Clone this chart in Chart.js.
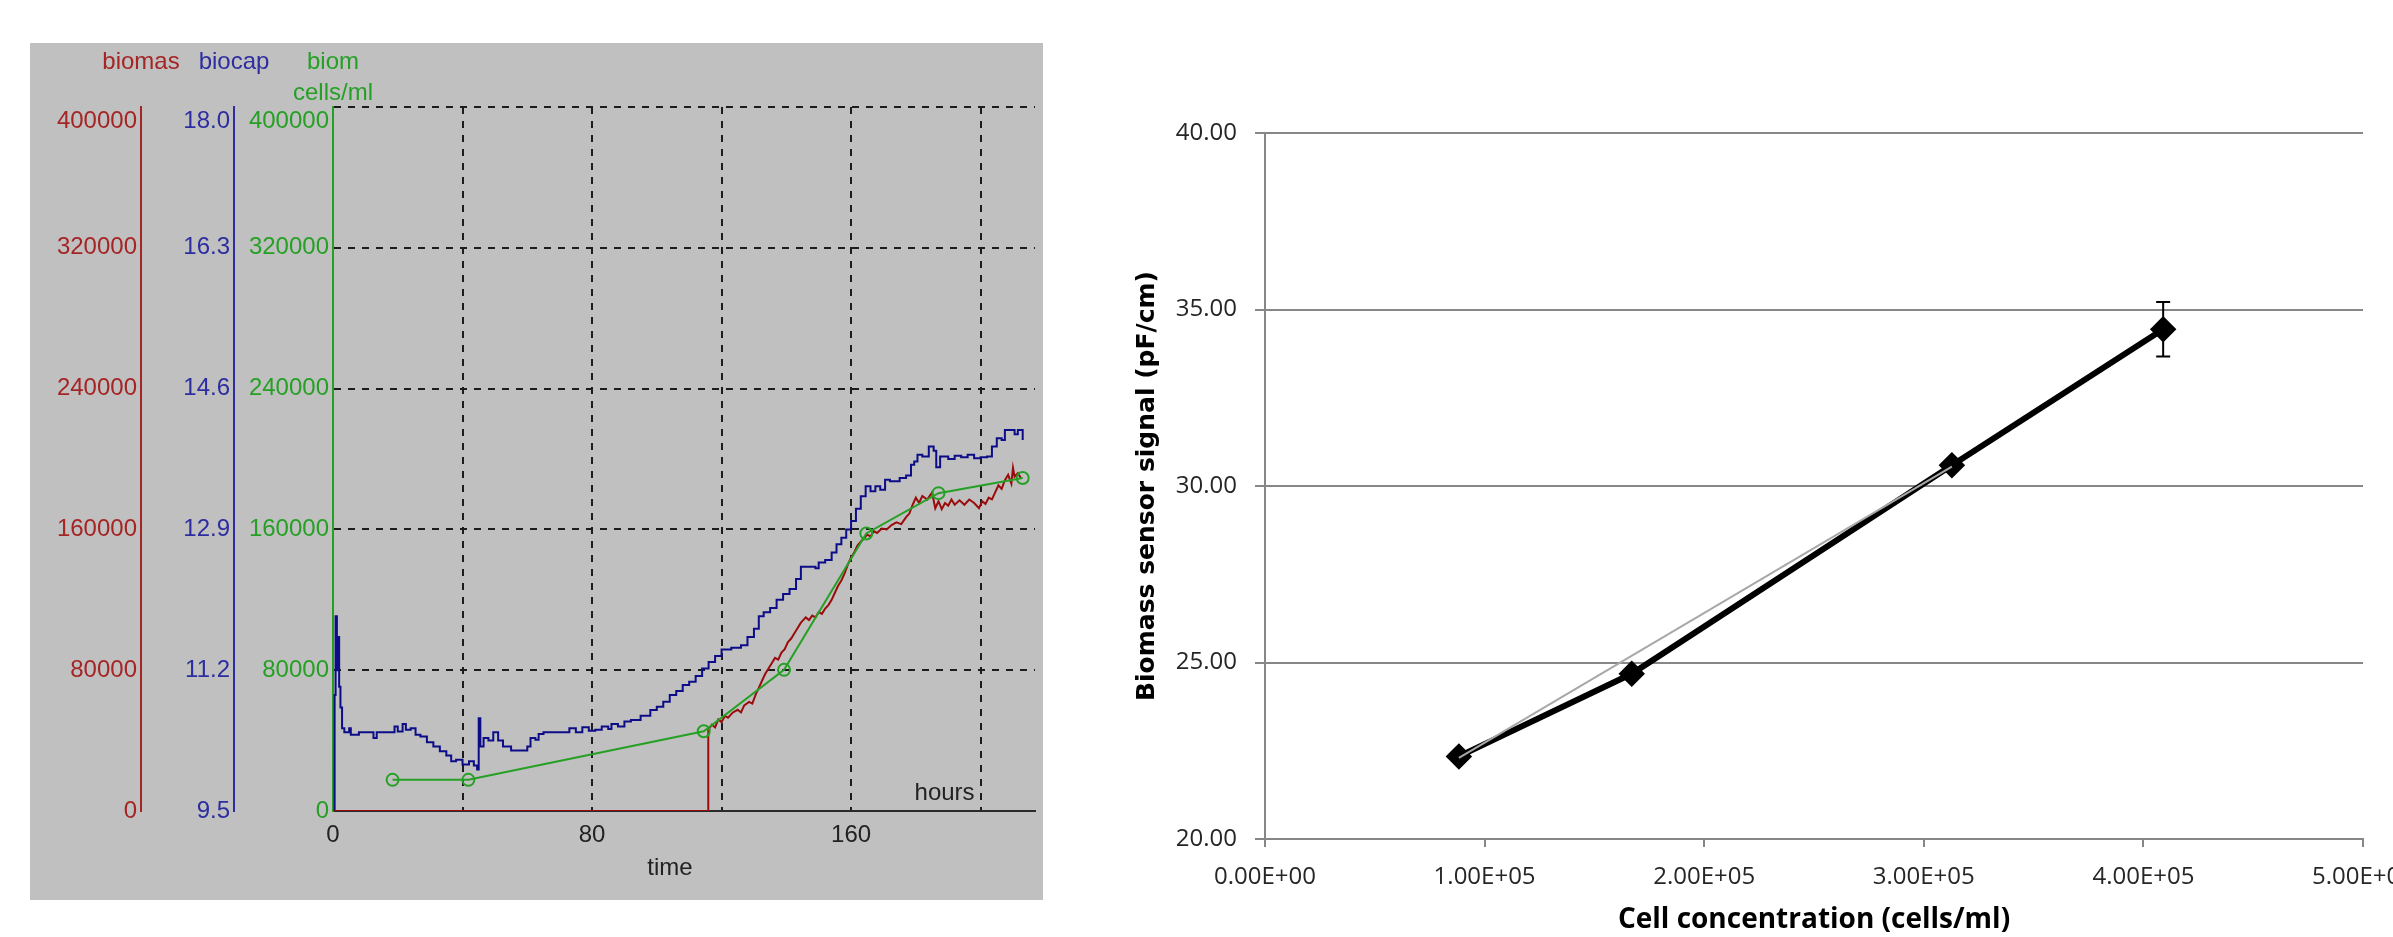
<!DOCTYPE html>
<html>
<head>
<meta charset="utf-8">
<script src="https://cdn.jsdelivr.net/npm/chart.js@4"></script>
<style>
  html, body { margin: 0; padding: 0; background: #fff; width: 2393px; height: 937px; overflow: hidden; }
  #wrapL { position: absolute; left: 30px; top: 43px; width: 1013px; height: 857px; background: #c0c0c0; }
  #wrapR { position: absolute; left: 1129px; top: 0; width: 1264px; height: 937px; }
  canvas { display: block; }
</style>
</head>
<body>
<div id="wrapL"><canvas id="left" width="1013" height="857"></canvas></div>
<div id="wrapR"><canvas id="right" width="1264" height="937"></canvas></div>
<script>
// ---- left panel: fermentation run (hours) ----
const timeTicks = [0, 40, 80, 120, 160, 200];
const cellTicks = [0, 80000, 160000, 240000, 320000, 400000];
const biocapTicks = [9.5, 11.2, 12.9, 14.6, 16.3, 18.0];

// offline cell counts (green, cells/ml)
const biomHours = [18.4, 41.8, 114.5, 139.3, 164.7, 187, 213];
const biomCells = [17700, 17700, 45300, 80200, 157700, 180600, 189200];

// on-line biomass estimate (red)
const biomasHours = [0, 115.9, 115.9, 117, 118, 119, 120, 121, 122, 123.5, 125, 126, 127, 128.5, 129.5, 130.5,
  131.5, 132.5, 133.5, 134.5, 135.5, 136.5, 137.5, 138.5, 139.5, 140.5, 141.5, 142.5, 143.5, 144.5,
  145, 146, 147, 148, 149, 150, 151, 152, 153, 154, 155, 156, 157, 158, 159, 160, 161, 162, 163, 164,
  165, 166, 167, 168, 169.5, 171, 172.5, 174, 175.5, 177, 178, 179, 180, 181, 182, 183.5, 185, 186, 187,
  188, 189, 190, 191, 192, 193.5, 195, 196.5, 198, 199.5, 200.5, 201.5, 202.5, 203.5, 204.5, 205.5,
  206.5, 207.5, 208.5, 209.5, 210, 210.5, 211.5, 212.5];
const biomasCells = [0, 0, 46000, 49000, 47500, 52000, 50500, 54000, 53000, 56000, 57500, 56000, 60000, 62000, 61000, 66000,
  70000, 74000, 78000, 81000, 84000, 87000, 86000, 90000, 92000, 96000, 98000, 101000, 104000, 107000,
  108000, 110000, 108500, 111000, 110000, 113000, 112000, 115000, 117000, 120000, 124000, 128000, 131000, 135000, 140000, 144000, 147000, 151000, 153000, 155000,
  157000, 156000, 159000, 158000, 160500, 160000, 162500, 164000, 163000, 167000, 169000, 174000, 178000, 175000, 179000, 177000, 181000, 172000, 176000,
  171500, 175000, 173500, 177000, 174000, 176500, 174000, 177000, 175000, 172000, 176000, 174500, 178000, 177000, 181000, 185000,
  183000, 188000, 191000, 186000, 195000, 190000, 192000, 189000];

// capacitance probe signal (blue)
const biocapHours = [0, 0.5, 0.8, 1.2, 1.5, 1.9, 2.3, 2.8, 3.5, 5, 5.5, 8, 12, 12.5, 13.5, 18, 19, 20, 21.5, 22.5,
  24, 25.5, 27, 29, 31, 33, 35, 36.5, 38, 40, 42, 43.5, 44.5, 45, 45.5, 46.5, 48, 49.5, 51, 52.5, 55, 58,
  60, 61, 62.5, 63.5, 65, 68, 72, 73, 75, 77, 79, 81, 83, 85, 86, 88, 90, 92, 95, 98, 100, 102, 104, 106,
  108, 110, 112, 114, 116, 118, 120, 123, 126, 128, 130, 131.5, 133, 135, 137, 139, 141, 143, 144.5, 147,
  149, 150, 152, 154, 155.5, 157, 158.5, 160, 161.5, 163, 164.5, 166, 167.5, 169, 170.5, 172, 175, 177,
  178.5, 179.5, 180.5, 182, 184, 185.5, 186.3, 187.5, 190, 192, 194, 196, 198, 200, 202, 203.5, 205, 206.5,
  207.5, 209, 210.5, 211.5, 213];
const biocapValues = [9.5, 10.9, 11.85, 11.2, 11.6, 11.0, 10.75, 10.5, 10.45, 10.5, 10.42, 10.45, 10.45, 10.38, 10.45, 10.45, 10.52, 10.46, 10.55, 10.48,
  10.5, 10.42, 10.4, 10.33, 10.28, 10.22, 10.17, 10.1, 10.12, 10.06, 10.1, 10.05, 10.0, 10.62, 10.28, 10.38, 10.35, 10.45, 10.35, 10.28, 10.23, 10.23,
  10.28, 10.38, 10.36, 10.43, 10.45, 10.45, 10.45, 10.5, 10.45, 10.51, 10.47, 10.48, 10.52, 10.49, 10.55, 10.52, 10.58, 10.6, 10.65, 10.72, 10.76, 10.82, 10.9, 10.95,
  11.02, 11.06, 11.13, 11.22, 11.3, 11.37, 11.45, 11.47, 11.5, 11.6, 11.7, 11.85, 11.9, 11.95, 12.05, 12.12, 12.18, 12.3, 12.45, 12.45,
  12.43, 12.5, 12.53, 12.62, 12.72, 12.8, 12.9, 13.0, 13.15, 13.3, 13.42, 13.36, 13.42, 13.38, 13.5, 13.48, 13.52, 13.55,
  13.68, 13.72, 13.8, 13.78, 13.9, 13.85, 13.65, 13.78, 13.75, 13.79, 13.77, 13.8, 13.76, 13.77, 13.78, 13.9, 14.0, 13.98,
  14.1, 14.1, 14.05, 14.1, 13.98];

// ---- right panel: calibration ----
const concTicks = [0, 100000, 200000, 300000, 400000, 500000];
const signalTicks = [20, 25, 30, 35, 40];
const cellConc = [88300, 167000, 312800, 409000];
const sensorSignal = [22.34, 24.68, 30.59, 34.44];
const sensorErr = [0, 0, 0, 0.77];
const trendConc = [88300, 312800];
const trendSignal = [22.3, 30.55];

const RED = "#a52525", BLUE = "#2d2da0", GREEN = "#25a025";
const leftFont = { family: "Liberation Sans", size: 24 };

const pairs = (xs, ys) => xs.map((x, i) => ({ x, y: ys[i] }));
const setTicks = vals => scale => { scale.ticks = vals.map(v => ({ value: v })); };
// the top label sits just under the top line, like the original software does
const dropTop = (fmt, top) => v => (v === top ? ["", fmt(v)] : fmt(v));

const leftLabels = {
  id: "leftLabels",
  afterDraw(chart) {
    const { ctx, scales } = chart;
    ctx.save();
    ctx.font = "24px 'Liberation Sans'";
    ctx.textAlign = "center";
    ctx.textBaseline = "middle";
    ctx.fillStyle = RED;  ctx.fillText("biomas", scales.yRed.right, 19);
    ctx.fillStyle = BLUE; ctx.fillText("biocap", scales.yBlue.right, 19);
    ctx.fillStyle = GREEN; ctx.fillText("biom", scales.yGreen.right, 19);
    ctx.fillText("cells/ml", scales.yGreen.right, 50);
    ctx.fillStyle = "#222";
    ctx.fillText("time", 640, 825);
    ctx.textAlign = "right";
    ctx.textBaseline = "alphabetic";
    ctx.fillText("hours", scales.x.getPixelForValue(200) - 6, chart.chartArea.bottom - 11);
    ctx.restore();
  }
};

new Chart(document.getElementById("left"), {
  type: "line",
  data: {
    datasets: [
      {
        label: "biom",
        data: pairs(biomHours, biomCells),
        yAxisID: "yGreen",
        borderColor: GREEN,
        borderWidth: 2,
        pointRadius: 6,
        pointBorderWidth: 2,
        pointBorderColor: GREEN,
        pointBackgroundColor: "rgba(0,0,0,0)"
      },
      {
        label: "biomas",
        data: pairs(biomasHours, biomasCells),
        yAxisID: "yRed",
        borderColor: "#9a0c0c",
        borderWidth: 2,
        pointRadius: 0
      },
      {
        label: "biocap",
        data: pairs(biocapHours, biocapValues),
        yAxisID: "yBlue",
        borderColor: "#0c0c88",
        borderWidth: 2,
        pointRadius: 0,
        stepped: true
      }
    ]
  },
  options: {
    responsive: false,
    animation: false,
    devicePixelRatio: 1,
    layout: { padding: { top: 64, left: 0, right: 0, bottom: 0 } },
    plugins: { legend: { display: false }, tooltip: { enabled: false } },
    scales: {
      x: {
        type: "linear",
        min: 0,
        max: 216.8,
        afterBuildTicks: setTicks(timeTicks),
        afterFit: s => { s.height = 89; s.paddingLeft = 0; s.paddingRight = 0; },
        ticks: {
          color: "#222", font: leftFont, padding: 10, autoSkip: false, maxRotation: 0,
          callback: v => (v % 80 === 0 ? String(v) : "")
        },
        grid: {
          color: c => (c.tick && c.tick.value > 0 ? "#1c1c1c" : "rgba(0,0,0,0)"),
          lineWidth: 2,
          drawTicks: false
        },
        border: { display: true, color: "#2a2a2a", width: 2, dash: [7, 7] }
      },
      yRed: {
        position: "left", weight: 3, min: 0, max: 400000,
        afterBuildTicks: setTicks(cellTicks),
        afterFit: s => { s.width = 111; },
        ticks: { color: RED, font: leftFont, padding: 4, callback: dropTop(String, 400000) },
        grid: { display: false, drawTicks: false },
        border: { color: RED, width: 2 }
      },
      yBlue: {
        position: "left", weight: 2, min: 9.5, max: 18.0,
        afterBuildTicks: setTicks(biocapTicks),
        afterFit: s => { s.width = 93; },
        ticks: { color: BLUE, font: leftFont, padding: 4, callback: dropTop(v => v.toFixed(1), 18.0) },
        grid: { display: false, drawTicks: false },
        border: { color: BLUE, width: 2 }
      },
      yGreen: {
        position: "left", weight: 1, min: 0, max: 400000,
        afterBuildTicks: setTicks(cellTicks),
        afterFit: s => { s.width = 99; },
        ticks: { color: GREEN, font: leftFont, padding: 4, callback: dropTop(String, 400000) },
        grid: {
          color: c => (c.tick && c.tick.value > 0 ? "#1c1c1c" : "rgba(0,0,0,0)"),
          lineWidth: 2,
          drawTicks: false
        },
        border: { color: GREEN, width: 2, dash: [7, 7] }
      }
    }
  },
  plugins: [leftLabels]
});

// ---- right panel ----
function sci(v) {
  if (v === 0) return "0.00E+00";
  const e = Math.floor(Math.log10(v));
  return (v / Math.pow(10, e)).toFixed(2) + "E+" + String(e).padStart(2, "0");
}

const errorBars = {
  id: "errorBars",
  afterDatasetsDraw(chart) {
    const { ctx, scales: { x, y } } = chart;
    ctx.save();
    ctx.strokeStyle = "#000";
    ctx.lineWidth = 2;
    sensorErr.forEach((err, i) => {
      if (!err) return;
      const px = x.getPixelForValue(cellConc[i]);
      const top = y.getPixelForValue(sensorSignal[i] + err);
      const bot = y.getPixelForValue(sensorSignal[i] - err);
      ctx.beginPath();
      ctx.moveTo(px, top); ctx.lineTo(px, bot);
      ctx.moveTo(px - 7, top); ctx.lineTo(px + 7, top);
      ctx.moveTo(px - 7, bot); ctx.lineTo(px + 7, bot);
      ctx.stroke();
    });
    ctx.restore();
  }
};

const rightTickFont = { family: "Open Sans", size: 24 };
const axisGray = "#878787";

new Chart(document.getElementById("right"), {
  type: "line",
  data: {
    datasets: [
      {
        label: "trend",
        data: pairs(trendConc, trendSignal),
        borderColor: "#a8a8a8",
        borderWidth: 2,
        pointRadius: 0
      },
      {
        label: "signal",
        data: pairs(cellConc, sensorSignal),
        borderColor: "#000",
        borderWidth: 6,
        pointStyle: "rectRot",
        pointRadius: 9,
        pointBackgroundColor: "#000",
        pointBorderColor: "#000"
      }
    ]
  },
  options: {
    responsive: false,
    animation: false,
    devicePixelRatio: 1,
    layout: { padding: { top: 133, left: 0, right: 30, bottom: 0 } },
    plugins: { legend: { display: false }, tooltip: { enabled: false } },
    scales: {
      x: {
        type: "linear", min: 0, max: 500000,
        afterBuildTicks: setTicks(concTicks),
        afterFit: s => { s.height = 98; s.paddingLeft = 0; s.paddingRight = 0; },
        ticks: { color: "#262626", font: rightTickFont, padding: 16, autoSkip: false, maxRotation: 0, callback: v => sci(v) },
        grid: { drawOnChartArea: false, color: axisGray, lineWidth: 2, tickLength: 8 },
        border: { color: axisGray, width: 2 },
        title: {
          display: true,
          text: "Cell concentration (cells/ml)",
          color: "#000",
          font: { family: "Open Sans", size: 28, weight: "bold" },
          padding: { top: 0, bottom: 0 }
        }
      },
      y: {
        min: 20, max: 40,
        afterBuildTicks: setTicks(signalTicks),
        afterFit: s => { s.width = 136; },
        ticks: { color: "#262626", font: rightTickFont, padding: 18, callback: v => v.toFixed(2) },
        grid: { color: axisGray, lineWidth: 2, tickLength: 10 },
        border: { color: axisGray, width: 2 },
        title: {
          display: true,
          text: "Biomass sensor signal (pF/cm)",
          color: "#000",
          font: { family: "DejaVu Sans", size: 25, weight: "bold" },
          padding: { top: 3, bottom: 0 }
        }
      }
    }
  },
  plugins: [errorBars]
});
</script>
</body>
</html>
